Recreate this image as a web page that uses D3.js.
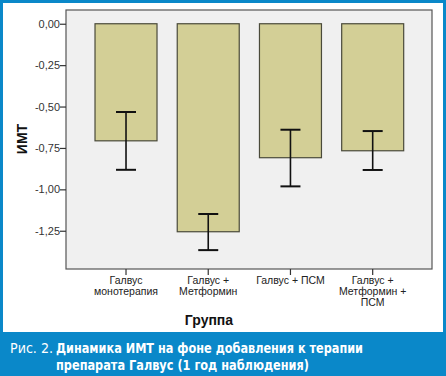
<!DOCTYPE html>
<html><head><meta charset="utf-8">
<script src="https://cdn.jsdelivr.net/npm/d3@7"></script>
<style>body{margin:0;padding:0;background:#fff;}svg{display:block;}</style>
</head><body>
<svg id="c" width="446" height="376"></svg>
<script>
const categories = [["Галвус","монотерапия"],["Галвус +","Метформин"],["Галвус + ПСМ"],["Галвус +","Метформин +","ПСМ"]];
const means = [-0.707, -1.256, -0.809, -0.767];
const errLow = [-0.882, -1.367, -0.982, -0.883];
const errHigh = [-0.533, -1.149, -0.640, -0.648];
const yTicks = [0, -0.25, -0.5, -0.75, -1.0, -1.25];
const yTitle = "ИМТ";
const xTitle = "Группа";
const captionLabel = "Рис. 2.";
const captionLines = ["Динамика ИМТ на фоне добавления к терапии", "препарата Галвус (1 год наблюдения)"];

const svg = d3.select("#c");
const W = 446, H = 376;
const blue = "#0a88c9";
svg.append("rect").attr("width", W).attr("height", H).attr("fill", blue);
svg.append("rect").attr("x", 3).attr("y", 3).attr("width", W - 6).attr("height", 329).attr("fill", "#fff");

const plot = {l: 66, t: 10, r: 432, b: 269};
const idx = d3.range(categories.length);
const x = d3.scaleBand().domain(idx).range([84.9, 413.8]).paddingInner(0.246).paddingOuter(0.123);
const y = d3.scaleLinear().domain([-1.481, 0.083]).range([plot.b, plot.t]);

svg.append("rect").attr("x", plot.l).attr("y", plot.t).attr("width", plot.r - plot.l).attr("height", plot.b - plot.t)
  .attr("fill", "#f0f0f0").attr("stroke", "#555").attr("stroke-width", 1.2);

svg.selectAll("rect.bar").data(idx).enter().append("rect").attr("class", "bar")
  .attr("x", i => x(i)).attr("width", x.bandwidth())
  .attr("y", y(0)).attr("height", i => y(means[i]) - y(0))
  .attr("fill", "#d3cf96").attr("stroke", "#4a4a3a").attr("stroke-width", 1.2);

const eb = svg.append("g").attr("stroke", "#111").attr("stroke-width", 1.6);
idx.forEach(i => {
  const cx = x(i) + x.bandwidth() / 2;
  eb.append("line").attr("x1", cx).attr("x2", cx).attr("y1", y(errHigh[i])).attr("y2", y(errLow[i]));
  eb.append("line").attr("x1", cx - 10).attr("x2", cx + 10).attr("y1", y(errHigh[i])).attr("y2", y(errHigh[i])).attr("stroke-width", 2);
  eb.append("line").attr("x1", cx - 10).attr("x2", cx + 10).attr("y1", y(errLow[i])).attr("y2", y(errLow[i])).attr("stroke-width", 2);
});

const fmt = d => d3.format(".2f")(d).replace(".", ",").replace("−", "-");
const yAxis = d3.axisLeft(y).tickValues(yTicks).tickFormat(fmt).tickSize(6).tickSizeOuter(0);
const ga = svg.append("g").attr("transform", `translate(${plot.l},0)`).call(yAxis);
ga.select(".domain").remove();
ga.selectAll("line").attr("stroke", "#333").attr("stroke-width", 1.2);
ga.selectAll("text").attr("font-family", "Liberation Sans, Arial, sans-serif").attr("font-size", 11).attr("fill", "#333").attr("x", -6);

const gx = svg.append("g");
idx.forEach(i => {
  const cx = x(i) + x.bandwidth() / 2;
  gx.append("line").attr("x1", cx).attr("x2", cx).attr("y1", plot.b).attr("y2", plot.b + 6).attr("stroke", "#333").attr("stroke-width", 1.2);
  const t = gx.append("text").attr("text-anchor", "middle").attr("font-family", "Liberation Sans, Arial, sans-serif")
    .attr("font-size", 10.5).attr("fill", "#222");
  categories[i].forEach((s, k) => t.append("tspan").attr("x", cx).attr("y", plot.b + 15 + k * 11).text(s));
});

svg.append("text").attr("x", 209).attr("y", 325).attr("text-anchor", "middle")
  .attr("font-family", "Liberation Sans, Arial, sans-serif").attr("font-weight", "bold").attr("font-size", 14).attr("fill", "#111").text(xTitle);
svg.append("text").attr("transform", "translate(27,139) rotate(-90)").attr("text-anchor", "middle")
  .attr("font-family", "Liberation Sans, Arial, sans-serif").attr("font-weight", "bold").attr("font-size", 14).attr("fill", "#111").text(yTitle);

const cf = "'DejaVu Sans Condensed', 'Liberation Sans Narrow', 'Open Sans', sans-serif";
svg.append("text").attr("x", 10).attr("y", 353).attr("font-family", cf).attr("font-size", 14.5).attr("fill", "#fff")
  .attr("textLength", 43).attr("lengthAdjust", "spacingAndGlyphs").text(captionLabel);
svg.append("text").attr("x", 56).attr("y", 353).attr("font-family", cf).attr("font-size", 14.5).attr("font-weight", "bold").attr("fill", "#fff")
  .attr("textLength", 307).attr("lengthAdjust", "spacingAndGlyphs").text(captionLines[0]);
svg.append("text").attr("x", 56).attr("y", 370).attr("font-family", cf).attr("font-size", 14.5).attr("font-weight", "bold").attr("fill", "#fff")
  .attr("textLength", 253).attr("lengthAdjust", "spacingAndGlyphs").text(captionLines[1]);
</script>
</body></html>
